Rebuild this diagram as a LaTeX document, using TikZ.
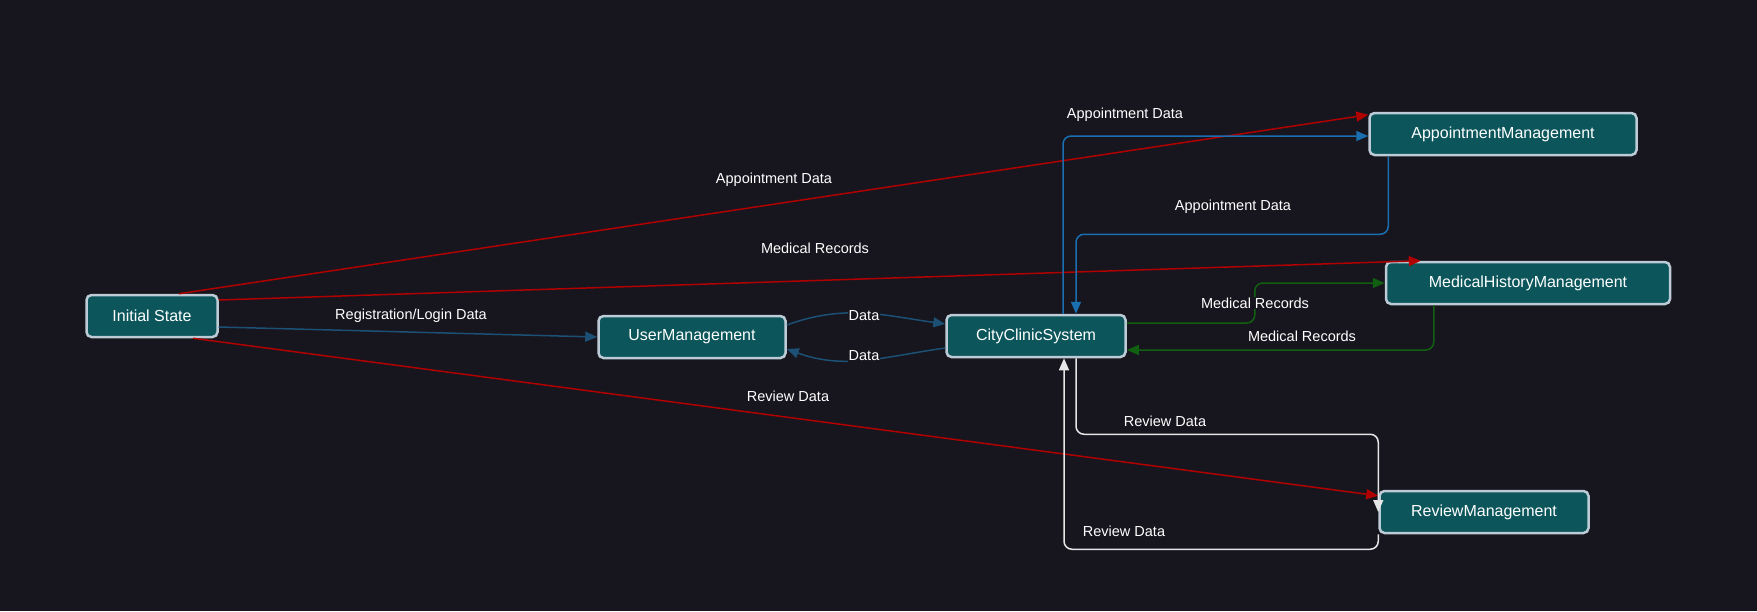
\documentclass[tikz,border=0pt]{standalone}
\usepackage{fontspec}
\setmainfont{Liberation Sans}
\usetikzlibrary{arrows.meta,calc}
\definecolor{bg}{HTML}{17151E}
\definecolor{nodefill}{HTML}{0B555B}
\definecolor{nodeborder}{HTML}{BCCBD6}
\definecolor{redline}{HTML}{B00000}
\definecolor{darkblue}{HTML}{1D5075}
\definecolor{brightblue}{HTML}{1A6FB0}
\definecolor{greenline}{HTML}{115F11}
\definecolor{whiteline}{HTML}{E6E6E6}
\begin{document}
\begin{tikzpicture}[x=1pt,y=-1pt,
  box/.style={draw=nodeborder, line width=2.5pt, fill=nodefill, rounded corners=5pt,
    minimum height=42pt, text=white, font=\fontsize{16}{19}\selectfont, inner sep=0pt},
  lbl/.style={text=white, font=\fontsize{14.5}{17}\selectfont, inner sep=1pt, fill=bg},
  conn/.style={line width=1.5pt, -{Triangle[length=12pt,width=10pt]}},
]
\fill[bg] (0,0) rectangle (1757,611);
\useasboundingbox (0,0) rectangle (1757,611);

% nodes
\node[box, minimum width=131pt] (init) at (152,316) {Initial State};
\node[box, minimum width=187pt] (user) at (692,337) {UserManagement};
\node[box, minimum width=179pt] (ccs) at (1036,336) {CityClinicSystem};
\node[box, minimum width=267pt] (appt) at (1503,134) {AppointmentManagement};
\node[box, minimum width=284pt] (med) at (1528,283) {MedicalHistoryManagement};
\node[box, minimum width=209pt] (rev) at (1484,512) {ReviewManagement};

% red edges from Initial State
\draw[conn, redline] ([xshift=27pt]init.north) -- ([yshift=-3pt]appt.north west);
\draw[conn, redline] ([yshift=16pt]init.east) -- ([xshift=36pt]med.north west);
\draw[conn, redline] ([xshift=41pt]init.south) -- ([yshift=-6pt]rev.north west);
\draw[conn, darkblue] ([yshift=-11pt]init.east) -- (user.west);

% data between user and city clinic
\draw[conn, darkblue] ([yshift=12pt]user.east) to[out=20,in=172] ([yshift=12pt]ccs.west);
\draw[conn, darkblue] ([yshift=-12pt]ccs.west) to[out=188,in=-20] ([yshift=-12pt]user.east);

% appointment
\draw[conn, brightblue, rounded corners=8pt] ([xshift=27pt]ccs.north) |- ([yshift=-2pt]appt.west);
\draw[conn, brightblue, rounded corners=8pt] ([xshift=20pt]appt.south west) -- ++(0,78) -| ([xshift=40pt]ccs.north);

% medical
\draw[conn, greenline, rounded corners=8pt] ([yshift=13pt]ccs.east) -- ++(128,0) |- (med.west);
\draw[conn, greenline, rounded corners=8pt] ([xshift=49pt]med.south west) |- ([yshift=-14pt]ccs.east);

% review
\draw[conn, whiteline, rounded corners=8pt] ([xshift=40pt]ccs.south) -- ++(0,76) -| (rev.west);
\draw[conn, whiteline, rounded corners=8pt] (rev.south west) -- ++(0,15) -| ([xshift=28pt]ccs.south);

% labels
\node[lbl] (l1) at (774,180) {Appointment Data};
\node[lbl] (l2) at (815,248) {Medical Records};
\node[lbl] (l3) at (411,316) {Registration/Login Data};
\node[lbl] (l4) at (788,396) {Review Data};
\node[lbl] (l5) at (864,316) {Data};
\node[lbl] (l6) at (864,356) {Data};
\node[lbl] (l7) at (1125,115) {Appointment Data};
\node[lbl] (l8) at (1233,207) {Appointment Data};
\node[lbl] (l9) at (1255,303) {Medical Records};
\node[lbl] (l10) at (1302,336) {Medical Records};
\node[lbl] (l11) at (1165,421) {Review Data};
\node[lbl] (l12) at (1124,531) {Review Data};
\end{tikzpicture}
\end{document}
